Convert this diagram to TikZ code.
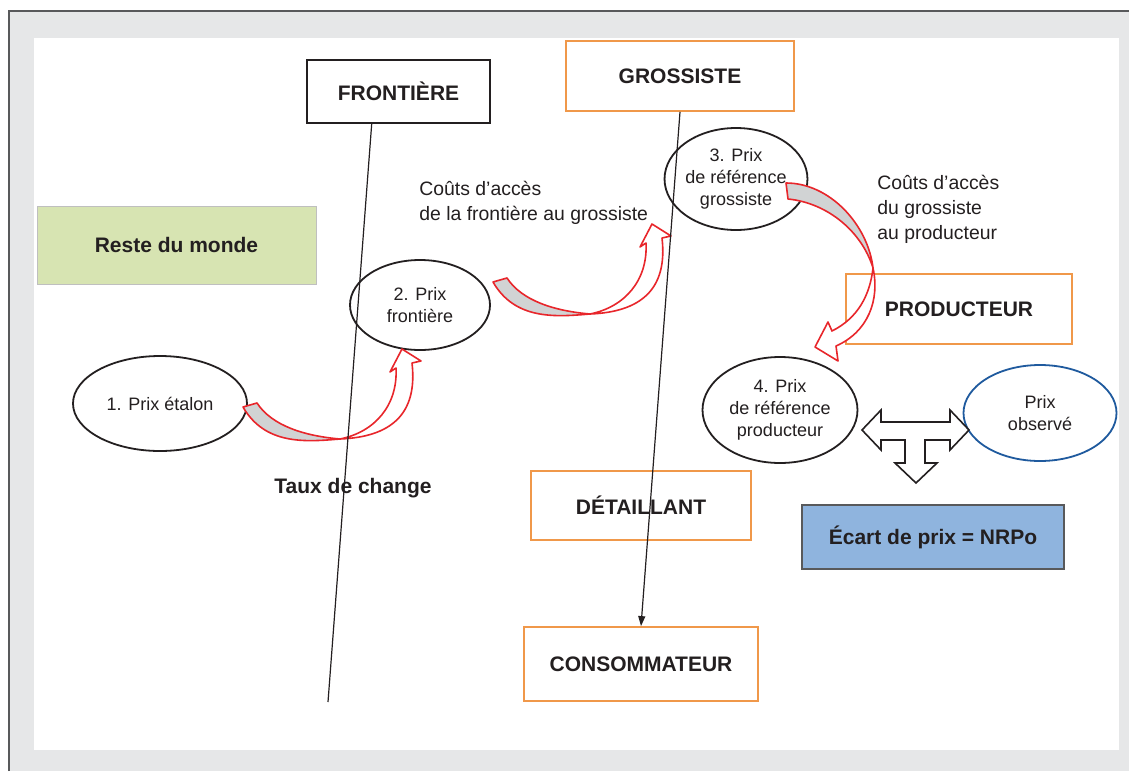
\documentclass[tikz,border=0pt]{standalone}
\usepackage{fontspec}
\setmainfont{Liberation Sans}
\usetikzlibrary{arrows.meta, shapes.geometric, calc}
\definecolor{ink}{HTML}{231F20}
\definecolor{frameline}{HTML}{58595B}
\definecolor{framegray}{HTML}{E6E7E8}
\definecolor{orangeline}{HTML}{F0984A}
\definecolor{redline}{HTML}{E8262B}
\definecolor{bandgray}{HTML}{D1D3D4}
\definecolor{worldgreen}{HTML}{D7E4B2}
\definecolor{gapblue}{HTML}{8FB4DE}
\definecolor{obsblue}{HTML}{1F5A9E}

\tikzset{
  band/.style={draw=redline, line width=0.8pt, line join=round},
  bendarrow/.pic={
    % tail seen from below, then the shaft and head
    \filldraw[band, fill=bandgray] (243,407) .. controls (265,445) and (305,442) .. (340,439)
      .. controls (305,436) and (272,426) .. (257,403) -- cycle;
    \filldraw[band, fill=white] (396,368) .. controls (398,405) and (375,432) .. (340,439)
      .. controls (390,437) and (418,415) .. (412,363) -- (421,361) -- (402,349) -- (390,372) -- cycle;
  }
}

\begin{document}
\begin{tikzpicture}[x=0.5pt, y=-0.5pt,
    every node/.style={text=ink, align=center, inner sep=0pt},
    box/.style={draw=orangeline, line width=0.9pt, font=\fontsize{10.5}{12.5}\selectfont\bfseries},
    blackbox/.style={box, draw=ink},
    price/.style={ellipse, draw=ink, line width=0.9pt, fill=white, font=\fontsize{9}{11}\selectfont},
    note/.style={align=left, anchor=north west, font=\fontsize{9.7}{12.5}\selectfont},
    flow/.style={draw=ink, line width=0.6pt},
  ]
  \useasboundingbox (0,0) rectangle (1129,771);
  % frame
  \fill[framegray] (9,11) rectangle (1129,771);
  \draw[frameline, line width=1pt] (9,771) -- (9,11) -- (1129,11);
  \fill[white] (34,38) rectangle (1119,750);

  % boxes
  \node[blackbox, minimum width=91.5pt, minimum height=31.5pt] (frontiere) at (398.5,91.5) {FRONTIÈRE};
  \node[box, minimum width=114pt, minimum height=35pt] (grossiste) at (680,76) {GROSSISTE};
  \node[box, minimum width=113pt, minimum height=35pt] (producteur) at (959,309) {PRODUCTEUR};
  \node[box, minimum width=110pt, minimum height=34.5pt] (detaillant) at (641,505.5) {DÉTAILLANT};
  \node[box, minimum width=117pt, minimum height=37pt] (consommateur) at (641,664) {CONSOMMATEUR};
  \node[box, draw=black!25, line width=0.4pt, fill=worldgreen, minimum width=139.5pt, minimum height=39pt] (monde) at (176.5,245) {Reste du monde};
  \node[box, draw=frameline, line width=0.6pt, fill=gapblue, minimum width=131pt, minimum height=32pt] (ecart) at (933,537) {Écart de prix = NRPo};

  % prices
  \node[price, minimum width=87pt, minimum height=47.5pt] (etalon) at (160,403.5) {1. Prix étalon};
  \node[price, minimum width=70pt, minimum height=45pt] (pfrontiere) at (420,305) {2. Prix\\frontière};
  \node[price, minimum width=63.5pt, minimum height=51pt] (pgrossiste) at (736,179) {3. Prix\\de référence\\grossiste};
  \node[price, minimum width=77.5pt, minimum height=53pt] (pproducteur) at (780,410) {4. Prix\\de référence\\producteur};
  \node[price, draw=obsblue, minimum width=76.5pt, minimum height=48pt] (observe) at (1040,413) {Prix\\observé};

  % curved arrows
  \pic at (0,0) {bendarrow};
  \pic at (250,-125) {bendarrow};
  \filldraw[band, fill=bandgray] (786,183) .. controls (830,183) and (868,225) .. (873,268)
    .. controls (862,232) and (828,203) .. (788,199) -- cycle;
  \filldraw[band, fill=white] (873,268) .. controls (880,300) and (868,332) .. (836,346)
    -- (838,361) -- (815,347) -- (828,322) -- (832,331)
    .. controls (858,318) and (870,295) .. (873,268) -- cycle;

  % comparison arrow
  \filldraw[draw=ink, fill=white, line width=0.8pt, line join=miter]
    (862,430) -- (881,410) -- (881,422) -- (950,422) -- (950,410) -- (969,430) -- (950,450)
    -- (950,440) -- (925,440) -- (925,463) -- (937,463) -- (916,483) -- (895,463) -- (905,463)
    -- (905,440) -- (881,440) -- (881,450) -- cycle;

  % chain lines
  \coordinate (frfoot) at (328,702);
  \draw[flow] ($(frontiere.south west)!0.355!(frontiere.south east)$) -- (frfoot);
  \draw[flow, -{Triangle[length=5pt, width=3.5pt]}] (grossiste.south) -- (consommateur.north);

  % texts
  \node[note] (cout1) at (419,181) {Coûts d’accès\\de la frontière au grossiste};
  \node[note] (cout2) at (877,175) {Coûts d’accès\\du grossiste\\au producteur};
  \node[font=\fontsize{10.5}{12.5}\selectfont\bfseries] (change) at (353,488) {Taux de change};
\end{tikzpicture}
\end{document}
